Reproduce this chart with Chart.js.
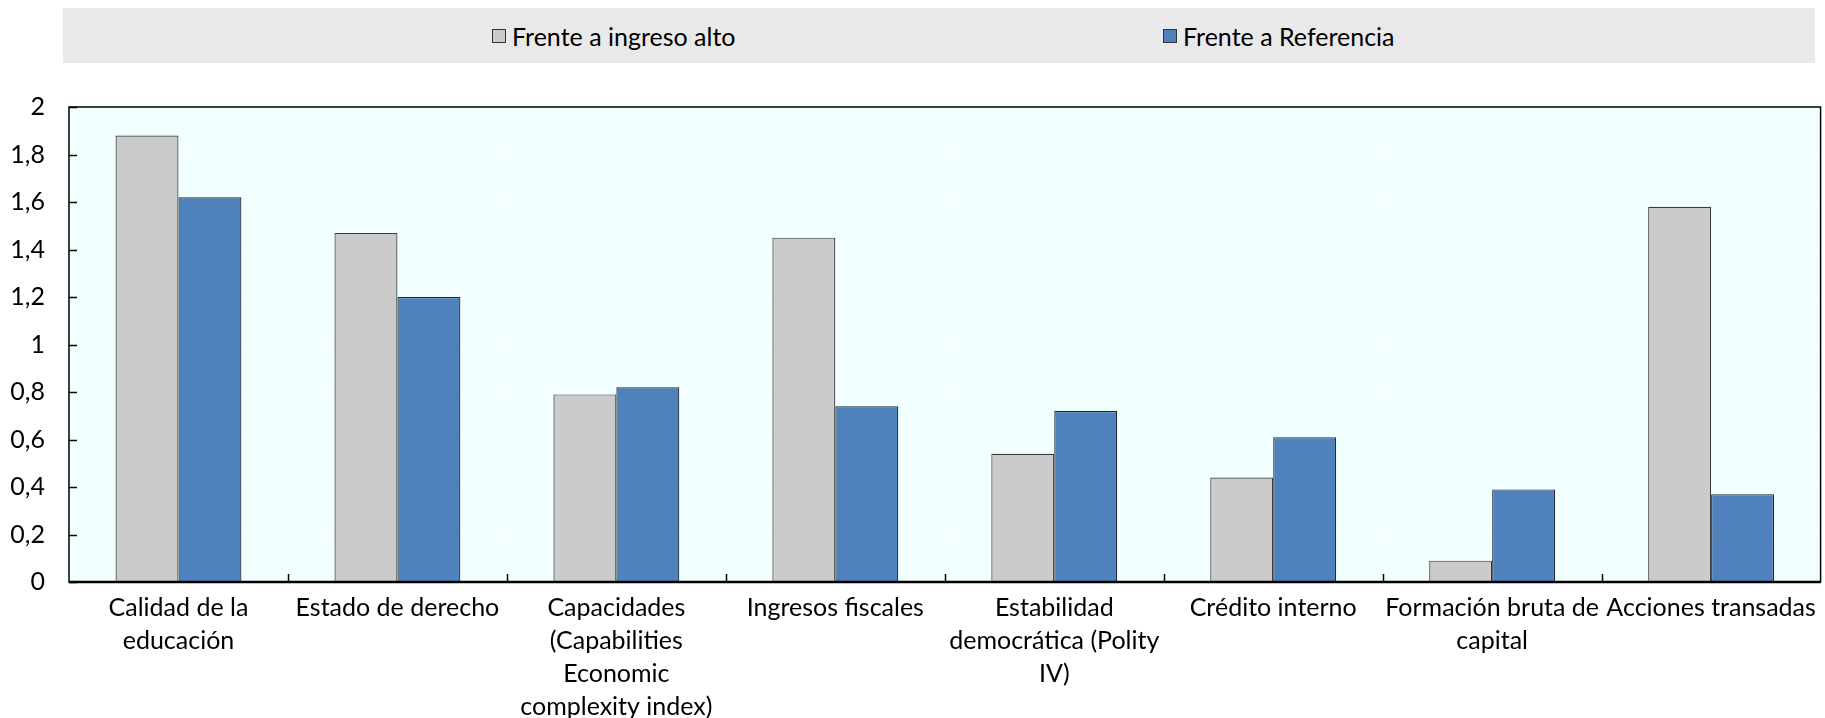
<!DOCTYPE html>
<html>
<head>
<meta charset="utf-8">
<script src="https://cdn.jsdelivr.net/npm/chart.js@4"></script>
<style>
  body { margin: 0; background: #fff; }
  #wrap { position: relative; width: 1825px; height: 718px; }
  #legend {
    position: absolute; left: 63px; top: 8px; width: 1752px; height: 55px;
    background: #e9e9e9; font-family: Lato, sans-serif; font-size: 25px; color: #000;
  }
  .item { position: absolute; top: 0; height: 55px; display: flex; align-items: center; }
  .box { width: 12px; height: 12px; border: 1px solid #333; margin-right: 6px; }
</style>
</head>
<body>
<div id="wrap">
  <div id="legend"></div>
  <canvas id="chart" width="1825" height="718"></canvas>
</div>
<script>
var categories = [
  ['Calidad de la', 'educación'],
  'Estado de derecho',
  ['Capacidades', '(Capabilities', 'Economic', 'complexity index)'],
  'Ingresos fiscales',
  ['Estabilidad', 'democrática (Polity', 'IV)'],
  'Crédito interno',
  ['Formación bruta de', 'capital'],
  'Acciones transadas'
];
var frenteIngresoAlto = [1.88, 1.47, 0.79, 1.45, 0.54, 0.44, 0.09, 1.58];
var frenteReferencia = [1.62, 1.20, 0.82, 0.74, 0.72, 0.61, 0.39, 0.37];
var yTickLabels = ['0', '0,2', '0,4', '0,6', '0,8', '1', '1,2', '1,4', '1,6', '1,8', '2'];

var legendLeft = [429, 1100];

// background, frame and inward tick marks
var plotFrame = {
  id: 'plotFrame',
  beforeDraw: function(chart) {
    let ctx = chart.ctx, a = chart.chartArea;
    ctx.save();
    ctx.fillStyle = '#f1ffff';
    ctx.fillRect(a.left, a.top, a.right - a.left, a.bottom - a.top);
    ctx.restore();
  },
  afterDatasetsDraw: function(chart) {
    let ctx = chart.ctx, a = chart.chartArea;
    let x = chart.scales.x, y = chart.scales.y;
    ctx.save();
    ctx.strokeStyle = '#000';
    ctx.lineWidth = 1.5;
    ctx.strokeRect(a.left, a.top, a.right - a.left, a.bottom - a.top);
    ctx.beginPath();
    y.ticks.forEach(function(t, i) {
      let py = Math.round(y.getPixelForTick(i)) + 0.5;
      ctx.moveTo(a.left, py);
      ctx.lineTo(a.left + 8, py);
    });
    for (let i = 0; i < categories.length - 1; i++) {
      let px = Math.round((x.getPixelForValue(i) + x.getPixelForValue(i + 1)) / 2) + 0.5;
      ctx.moveTo(px, a.bottom);
      ctx.lineTo(px, a.bottom - 8);
    }
    ctx.stroke();
    ctx.lineWidth = 2.5;
    ctx.beginPath();
    ctx.moveTo(a.left, a.bottom);
    ctx.lineTo(a.right, a.bottom);
    ctx.stroke();
    ctx.restore();
  }
};

function buildLegend(chart) {
  let items = chart.options.plugins.legend.labels.generateLabels(chart);
  let legend = document.getElementById('legend');
  items.forEach(function(item, i) {
    let div = document.createElement('div');
    div.className = 'item';
    div.style.left = legendLeft[i] + 'px';
    let box = document.createElement('span');
    box.className = 'box';
    box.style.background = item.fillStyle;
    div.appendChild(box);
    div.appendChild(document.createTextNode(item.text));
    legend.appendChild(div);
  });
}

var chart = new Chart(document.getElementById('chart').getContext('2d'), {
  type: 'bar',
  data: {
    labels: categories,
    datasets: [{
      label: 'Frente a ingreso alto',
      data: frenteIngresoAlto,
      backgroundColor: '#cbcbcb',
      borderColor: '#3a3a3a',
      borderWidth: 1.2,
    }, {
      label: 'Frente a Referencia',
      data: frenteReferencia,
      backgroundColor: '#4f81bd',
      borderColor: '#1f2a36',
      borderWidth: 1.2,
    }],
  },
  options: {
    responsive: false,
    animation: false,
    layout: { padding: { top: 107, right: 2, left: 0, bottom: 0 } },
    datasets: { bar: { categoryPercentage: 0.575, barPercentage: 1 } },
    plugins: {
      legend: { display: false },
      tooltip: { enabled: false },
    },
    scales: {
      x: {
        grid: { color: '#ffffff', lineWidth: 1, drawTicks: false, offset: true },
        border: { display: false },
        ticks: {
          color: '#000',
          padding: 9,
          maxRotation: 0,
          autoSkip: false,
          font: { family: 'Lato', size: 25, lineHeight: 1.32 },
        },
        afterFit: function(scale) { scale.height = 136; },
      },
      y: {
        min: 0,
        max: 2,
        grid: { color: '#ffffff', lineWidth: 1, drawTicks: false },
        border: { display: false },
        ticks: {
          stepSize: 0.2,
          color: '#000',
          padding: 24,
          font: { family: 'Lato', size: 25 },
          callback: function(value, index) { return yTickLabels[index]; },
        },
        afterFit: function(scale) { scale.width = 69; },
      },
    },
  },
  plugins: [plotFrame],
});

buildLegend(chart);
</script>
</body>
</html>
